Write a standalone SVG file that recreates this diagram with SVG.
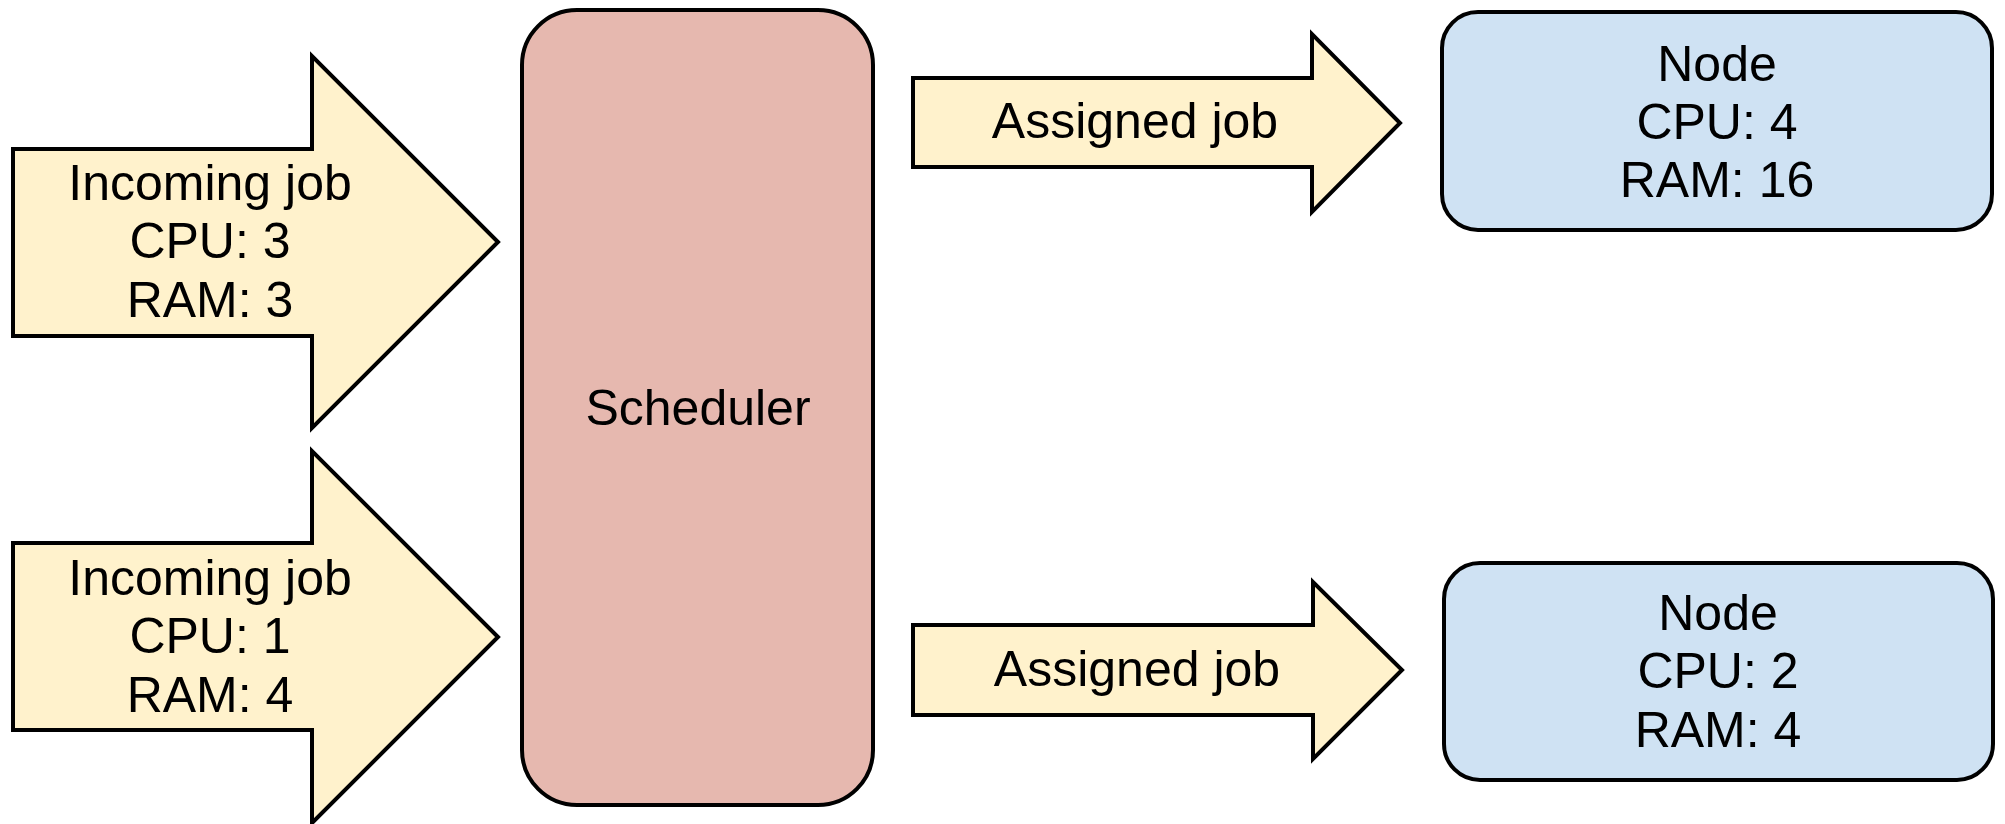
<svg xmlns="http://www.w3.org/2000/svg" width="2005" height="824" viewBox="0 0 2005 824">
<style>
.arrow{fill:#fff2cc;stroke:#000;stroke-width:4;stroke-linejoin:miter}
.sched{fill:#e6b8af;stroke:#000;stroke-width:4}
.node{fill:#cfe2f3;stroke:#000;stroke-width:4}
text{font-family:"Liberation Sans",Arial,sans-serif;font-size:50px;fill:#000;text-anchor:middle}
</style>
<rect width="2005" height="824" fill="#fff"/>
<g id="connectors">
<g id="incoming1">
<polygon class="arrow" points="13,149 312,149 312,56 498,242 312,428 312,336 13,336"/>
<text x="210" y="200">Incoming job</text>
<text x="210" y="258">CPU: 3</text>
<text x="210" y="317">RAM: 3</text>
</g>
<g id="incoming2">
<polygon class="arrow" points="13,543 312,543 312,451 498,637 312,823 312,730 13,730"/>
<text x="210" y="595">Incoming job</text>
<text x="210" y="653">CPU: 1</text>
<text x="210" y="712">RAM: 4</text>
</g>
<g id="assigned1">
<polygon class="arrow" points="913,78 1312,78 1312,34 1400,123 1312,212 1312,167 913,167"/>
<text x="1135" y="138">Assigned job</text>
</g>
<g id="assigned2">
<polygon class="arrow" points="913,625 1313,625 1313,582 1402,670 1313,759 1313,715 913,715"/>
<text x="1137" y="686">Assigned job</text>
</g>
</g>
<g id="scheduler">
<rect class="sched" x="522" y="10" width="351" height="795" rx="55" ry="55"/>
<text x="698" y="425">Scheduler</text>
</g>
<g id="node1">
<rect class="node" x="1442" y="12" width="550" height="218" rx="36" ry="36"/>
<text x="1717" y="81">Node</text>
<text x="1717" y="139">CPU: 4</text>
<text x="1717" y="197">RAM: 16</text>
</g>
<g id="node2">
<rect class="node" x="1444" y="563" width="549" height="217" rx="36" ry="36"/>
<text x="1718" y="630">Node</text>
<text x="1718" y="688">CPU: 2</text>
<text x="1718" y="747">RAM: 4</text>
</g>
</svg>
